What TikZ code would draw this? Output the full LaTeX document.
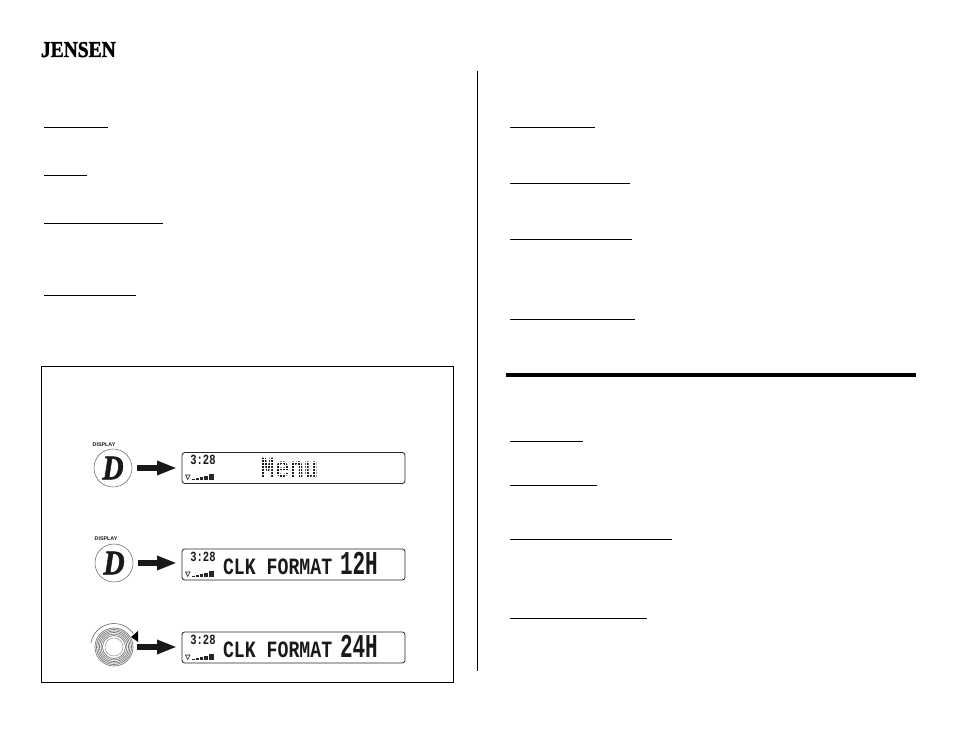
\documentclass[tikz,border=0pt]{standalone}
\usepackage{graphicx}
\usepackage{fontspec}
\setmainfont{Liberation Sans}
\newfontfamily\serifb{Liberation Serif}
\newfontfamily\logofont[FakeBold=1.6]{Liberation Serif}
\newfontfamily\lcdfont{Liberation Mono}
\usetikzlibrary{arrows.meta}
\tikzset{
  x=0.75pt,y=-0.75pt,
  rulethin/.style={line width=0.6pt,black},
  lcdbox/.style={draw=black!85,line width=0.6pt,rounded corners=2pt,minimum width=167.25pt,minimum height=23.25pt,inner sep=0pt,outer sep=0pt},
  btn/.style={circle,draw=black!60,line width=0.4pt,minimum size=28.5pt,inner sep=0pt,outer sep=0pt},
  bigarrow/.style={line width=4.5pt,black!90,-{Triangle[length=15pt,width=10pt]},shorten <=3.75pt,shorten >=3.75pt},
  txt/.style={inner sep=0pt,outer sep=0pt,text=black!90},
  sig/.pic={
    \draw[black!85,line width=0.5pt] (3.5,-8) -- (8,-8) -- (5.75,-3.5) -- cycle;
    \fill[black!85] (10,-4) rectangle (13,-2.5);
    \fill[black!85] (14,-4.5) rectangle (17,-2.5);
    \fill[black!85] (18,-6) rectangle (21,-2.5);
    \fill[black!85] (22,-7) rectangle (26,-2.5);
    \fill[black!85] (27,-8.5) rectangle (32,-2.5);
  }
}
\newcommand{\clock}{{\lcdfont\bfseries\fontsize{10.5pt}{10.5pt}\selectfont\scalebox{.75}[1]{3:28}}}
\newcommand{\fmt}{{\lcdfont\bfseries\fontsize{17.5pt}{17.5pt}\selectfont\scalebox{.78}[1]{CLK FORMAT}}}
\newcommand{\hrs}[1]{{\lcdfont\bfseries\fontsize{25pt}{25pt}\selectfont\scalebox{.63}[1]{#1}}}
\newcommand{\dlogo}{{\logofont\bfseries\itshape\fontsize{26pt}{26pt}\selectfont\scalebox{.85}[1]{D}}}
\newcommand{\dsp}{{\bfseries\fontsize{4pt}{4pt}\selectfont DISPLAY}}
\begin{document}
\begin{tikzpicture}
\useasboundingbox (0,0) rectangle (954,737);
\fill[white] (0,0) rectangle (954,737);
% logo
\node[txt,anchor=base west,text=black] (logo) at (41,57) {{\logofont\bfseries\fontsize{17pt}{17pt}\selectfont\scalebox{.86}[1]{JENSEN}}};
% heading rules left
\draw[rulethin] (44,127) -- (108,127);
\draw[rulethin] (44,175) -- (87,175);
\draw[rulethin] (44,223) -- (163,223);
\draw[rulethin] (44,295) -- (136,295);
% heading rules right
\draw[rulethin] (510,127) -- (595,127);
\draw[rulethin] (510,183) -- (630,183);
\draw[rulethin] (510,239) -- (632,239);
\draw[rulethin] (510,319) -- (635,319);
\draw[rulethin] (510,441) -- (583,441);
\draw[rulethin] (510,485) -- (597,485);
\draw[rulethin] (510,539) -- (672,539);
\draw[rulethin] (510,618) -- (647,618);
% column divider, section rule
\draw[line width=0.6pt,black] (477,71) -- (477,671);
\fill[black] (506,373) rectangle (916,377);
% frame
\draw[line width=0.6pt,black] (41,366) rectangle (453,682);

% row 1
\node[btn] (d1) at (113,468) {};
\node[txt] (d1l) at (113,468) {\dlogo};
\node[txt] (d1t) at (104,445) {\dsp};
\node[lcdbox] (lcd1) at (293.5,468) {};
\draw[bigarrow] (d1) -- (lcd1);
\node[txt] (c1) at (203,459.5) {\clock};
\pic at (182,483) {sig};
\node[txt,anchor=base] (menu) at (289.5,478) {{\lcdfont\bfseries\fontsize{22pt}{22pt}\selectfont\scalebox{.82}[1]{Menu}}};
\foreach \yy in {459,462,...,480} \draw[white,line width=0.3pt] (258,\yy) -- (322,\yy);
\foreach \xx in {261,264,...,321} \draw[white,line width=0.3pt] (\xx,455) -- (\xx,482);

% row 2
\node[btn] (d2) at (114,563) {};
\node[txt] (d2l) at (114,563) {\dlogo};
\node[txt] (d2t) at (106,539) {\dsp};
\node[lcdbox] (lcd2) at (293.5,564.5) {};
\draw[bigarrow] (d2) -- (d2 -| lcd2.west);
\node[txt] (c2) at (203,556.5) {\clock};
\pic at (182,580) {sig};
\node[txt,anchor=base west] (f2) at (223,575) {\fmt};
\node[txt,anchor=base west] (h2) at (340,575) {\hrs{12H}};

% row 3
\node[circle,draw=black!40,line width=0.4pt,minimum size=13.5pt,inner sep=0pt] (k) at (114,647) {};
\foreach \r in {11.5,13,...,19} \draw[black!55,line width=0.5pt] (k.center) circle[radius=\r];
\draw[black!65,line width=0.4pt] (k.center) ++(-170:23.5) arc[start angle=-170,end angle=-35,radius=23.5];
\fill[black] (131,637) -- (138,631) -- (138,642) -- cycle;
\node[lcdbox] (lcd3) at (293.5,647.5) {};
\draw[bigarrow,shorten <=10.5pt] (k) -- (k -| lcd3.west);
\node[txt] (c3) at (203,639.5) {\clock};
\pic at (182,663) {sig};
\node[txt,anchor=base west] (f3) at (223,658) {\fmt};
\node[txt,anchor=base west] (h3) at (340,658) {\hrs{24H}};
\end{tikzpicture}
\end{document}
